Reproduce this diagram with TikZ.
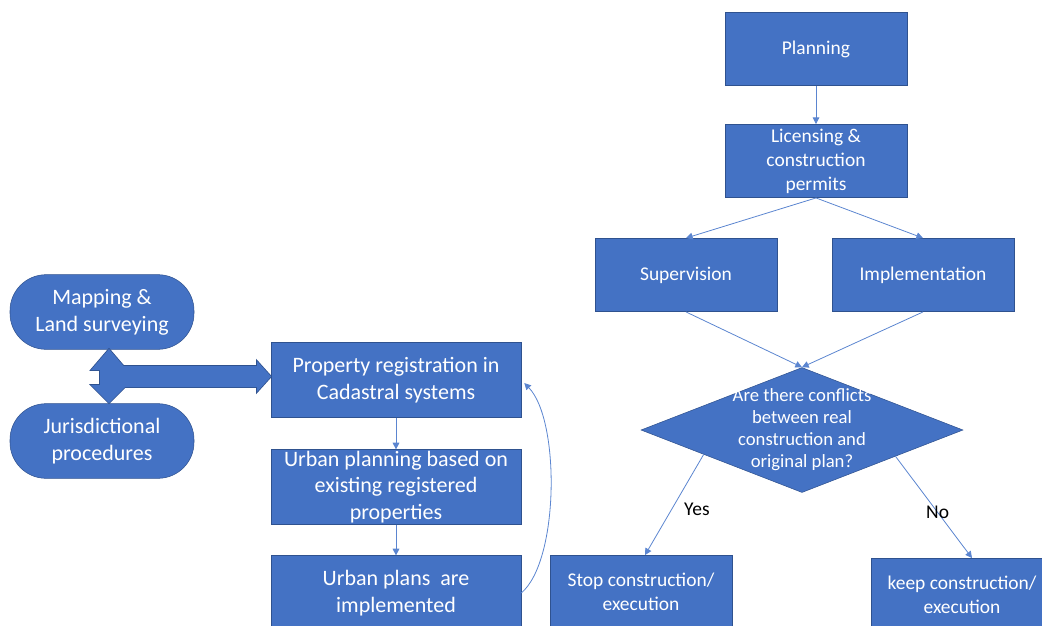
\documentclass[tikz,border=0pt]{standalone}
\usepackage{fontspec}
\setmainfont{Carlito}
\usepackage{tikz}
\usetikzlibrary{shapes.geometric, arrows.meta, positioning, calc}
\definecolor{boxblue}{HTML}{4472C4}
\definecolor{edgeblue}{HTML}{2F528F}
\definecolor{lineblue}{HTML}{5B85D0}

\begin{document}
\begin{tikzpicture}[x=0.75pt, y=-0.75pt, >={Triangle[length=5pt,width=5pt]},
        box/.style={draw=edgeblue, fill=boxblue, text=white, align=center,
            minimum width=136.5pt, minimum height=55pt, inner sep=2pt,
            font=\fontsize{14.6}{18}\selectfont},
        wbox/.style={box, minimum width=187.5pt, minimum height=56pt,
            font=\fontsize{16.5}{20}\selectfont},
        rbox/.style={wbox, minimum width=138pt, rounded corners=27pt},
        conn/.style={draw=lineblue, line width=0.6pt, ->}]
        % ============================================================
        % 1 jedn. = 1 px obrazu (0.75pt), os y w dol
        % ============================================================
        \useasboundingbox (0,0) rectangle (1042,625);

        % === PRAWA STRONA: PROCES BUDOWY ===
        \node[box] (plan) at (816,49) {Planning};
        \node[box] (lic) at (816,161) {Licensing \&\\construction\\permits};
        \node[box] (sup) at (686,275) {Supervision};
        \node[box] (impl) at (923,275) {Implementation};

        % romb decyzji: ksztalt pusty, tekst osobno (wychodzi poza romb)
        \node[diamond, draw=edgeblue, fill=boxblue, minimum width=241.5pt,
            minimum height=93.75pt, inner sep=0pt] (dia) at (802,430) {};
        \node[text=white, align=center, font=\fontsize{14}{16.5}\selectfont]
            (q) at (dia.center) {Are there conflicts\\between real\\construction and\\original plan?};

        \node[box] (stop) at (641,592) {Stop construction/\\execution};
        \node[box] (keep) at (962,595) {keep construction/\\execution};

        \draw[conn] (plan) -- (lic);
        \draw[conn] (lic.south) -- (sup.north);
        \draw[conn] (lic.south) -- (impl.north);
        \draw[conn] (sup.south) -- (dia.north);
        \draw[conn] (impl.south) -- (dia.north);
        \draw[conn] ($(dia.west)!0.39!(dia.south)$) -- ($(stop.north)+(4,0)$)
            node[pos=0.55, right=6pt, font=\fontsize{14.6}{18}\selectfont] {Yes};
        \draw[conn] ($(dia.east)!0.42!(dia.south)$) -- ($(keep.north)+(10,0)$)
            node[pos=0.55, font=\fontsize{14.6}{18}\selectfont] {No};

        % === LEWA STRONA: KATASTER ===
        \node[rbox] (map) at (102,312) {Mapping \&\\Land surveying};
        \node[rbox] (jur) at (102,441) {Jurisdictional\\procedures};
        \node[wbox] (prop) at (396,380) {Property registration in\\Cadastral systems};
        \node[wbox, inner sep=0pt] (urb) at (396,487) {Urban planning based on\\existing registered\\properties};
        \node[wbox] (plans) at (396,593) {Urban plans~ are\\implemented};

        % strzalka blokowa gora-dol + w prawo (najpierw obrys, potem wypelnienie)
        \foreach \fillpass in {0,1} {
            \ifnum\fillpass=0
                \tikzset{blk/.style={draw=edgeblue, line width=1.2pt}}
            \else
                \tikzset{blk/.style={fill=boxblue}}
            \fi
            \path[blk] (109,349) -- (127,370) -- (118,370) -- (118,385) -- (127,385)
                -- (109,403) -- (91,385) -- (100,385) -- (100,370) -- (91,370) -- cycle;
            \path[blk] (109,366) -- (257,366) -- (257,361) -- (271,376.5)
                -- (257,392) -- (257,387) -- (109,387) -- cycle;
        }

        \draw[conn] (prop) -- (urb);
        \draw[conn] (urb) -- (plans);
        \draw[conn] (plans.east) .. controls +(38,-32) and +(36,37) .. ($(prop.east)+(3,3)$);

    \end{tikzpicture}
\end{document}
